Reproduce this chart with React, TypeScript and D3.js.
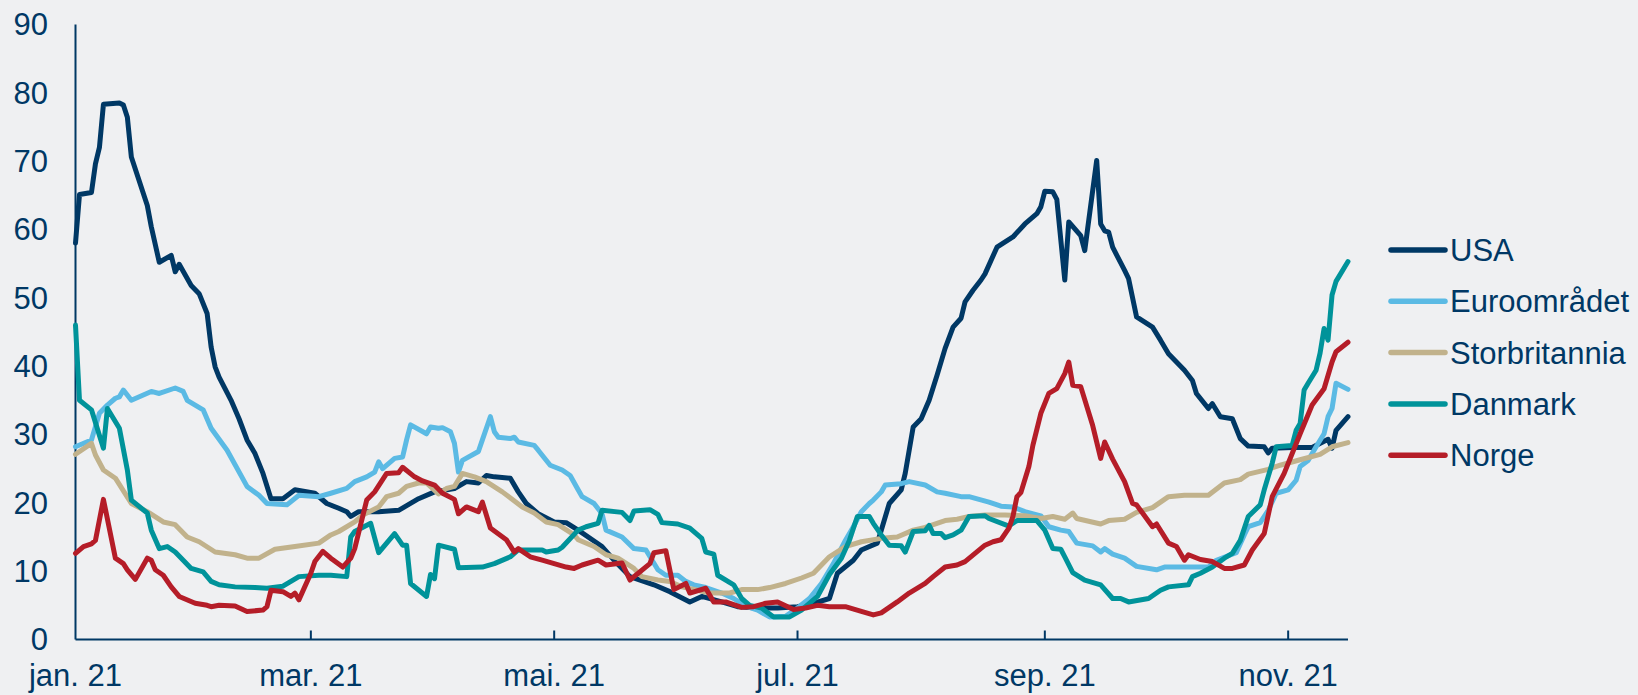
import React from "react";
import * as d3 from "d3";

type P = [number, number]; // [days since 2021-01-01, value]

const usa: P[] = [
[0,58],[1,65.1],[4,65.4],[5,69.6],[6,72.0],[7,78.3],[11,78.5],[12,78.2],[13,76.4],[14,70.6],[18,63.5],[19,60.4],[21,55.2],[24,56.2],[25,53.8],[26,54.9],[29,51.8],[31,50.6],[33,47.7],[34,42.8],[35,39.9],[36,38.4],[39,35.0],[41,32.3],[43,29.2],[45,27.2],[47,24.3],[49,20.6],[52,20.6],[55,21.9],[60,21.4],[63,19.9],[66,19.2],[68,18.7],[69,18.0],[71,18.7],[76,18.7],[81,18.9],[86,20.6],[90,21.6],[95,22.1],[98,23.1],[101,22.9],[103,24.0],[105,23.8],[109,23.6],[111,21.6],[113,19.9],[116,18.4],[120,17.2],[123,17.1],[126,16.0],[132,13.6],[135,11.6],[139,9.2],[145,8.0],[149,7.0],[154,5.5],[157,6.3],[162,5.5],[166,4.8],[171,4.6],[176,4.6],[181,4.8],[185,5.3],[189,6.0],[191,9.7],[195,11.6],[197,13.1],[201,14.1],[202,16.0],[204,19.9],[207,21.9],[208,24.3],[210,31.1],[212,32.3],[214,35.0],[216,38.7],[218,42.6],[220,45.7],[222,47.0],[223,49.4],[225,51.1],[227,52.6],[228,53.5],[231,57.4],[235,58.9],[238,60.8],[241,62.3],[242,63.3],[243,65.6],[245,65.5],[246,64.4],[248,52.6],[249,61.1],[252,59.1],[253,56.9],[256,70.1],[257,60.8],[258,59.8],[259,59.6],[260,57.4],[263,54.0],[264,52.8],[266,47.2],[270,45.7],[272,43.8],[274,41.8],[278,39.4],[280,37.9],[281,36.0],[284,33.8],[285,34.5],[287,32.6],[290,32.3],[292,29.4],[294,28.3],[298,28.2],[299,27.3],[300,28.0],[305,28.1],[310,28.1],[314,29.3],[315,28.0],[316,30.6],[319,32.6]
];

const euro: P[] = [
[0,28.2],[4,29.2],[6,33.1],[8,34.3],[10,35.3],[11,35.5],[12,36.5],[14,35.0],[19,36.3],[21,36.0],[25,36.8],[27,36.3],[28,35.0],[32,33.6],[34,30.9],[38,27.7],[43,22.4],[46,21.1],[48,19.9],[53,19.7],[56,21.1],[61,20.9],[64,21.4],[68,22.1],[70,23.1],[73,23.8],[75,24.5],[76,26.0],[77,25.0],[80,26.5],[82,26.7],[83,29.2],[84,31.4],[88,30.1],[89,31.1],[91,30.9],[92,31.0],[94,30.4],[95,28.7],[96,24.5],[97,26.2],[101,27.5],[102,29.2],[104,32.6],[105,30.4],[106,29.6],[109,29.4],[110,29.6],[111,28.9],[115,28.4],[116,27.7],[119,25.5],[122,24.8],[124,24.0],[126,21.9],[127,20.9],[130,19.9],[132,18.4],[133,16.0],[137,15.0],[140,13.3],[143,13.1],[146,10.2],[148,9.4],[151,9.4],[153,8.5],[155,8.0],[158,7.6],[162,6.8],[165,6.0],[168,4.9],[171,4.3],[174,3.3],[178,3.4],[181,4.6],[184,6.0],[187,8.2],[190,11.1],[193,14.5],[195,16.5],[197,18.7],[199,19.9],[200,20.4],[202,21.6],[203,22.6],[207,22.8],[209,23.1],[213,22.6],[216,21.6],[218,21.4],[222,20.9],[224,20.9],[229,20.1],[232,19.5],[235,19.4],[238,18.7],[242,18.1],[244,16.5],[247,16.0],[249,15.8],[251,14.1],[255,13.7],[257,12.8],[258,13.3],[260,12.5],[263,11.9],[266,10.7],[271,10.2],[273,10.6],[284,10.6],[286,11.6],[291,12.7],[293,15.3],[294,16.5],[297,17.1],[299,18.9],[301,21.4],[304,21.9],[306,23.3],[307,25.3],[309,26.2],[311,28.2],[313,30.1],[314,32.6],[315,33.8],[316,37.5],[319,36.6]
];

const stor: P[] = [
[0,27.1],[4,28.7],[5,27.0],[7,24.8],[10,23.6],[14,19.9],[18,18.7],[22,17.2],[25,16.8],[28,15.0],[31,14.3],[35,12.8],[40,12.4],[43,11.9],[46,11.9],[50,13.2],[55,13.6],[61,14.1],[64,15.3],[66,15.8],[70,17.2],[72,18.2],[76,19.4],[78,20.9],[81,21.4],[83,22.4],[86,22.9],[88,22.9],[91,21.3],[93,22.1],[95,22.4],[97,24.3],[100,23.8],[103,23.1],[107,21.6],[112,19.4],[115,18.5],[118,17.2],[121,16.8],[125,15.3],[126,14.6],[130,13.6],[133,12.4],[136,11.9],[140,10.4],[142,9.2],[146,8.7],[149,8.5],[152,7.7],[156,7.2],[159,6.8],[164,6.8],[167,7.3],[171,7.3],[174,7.6],[178,8.2],[182,9.0],[185,9.7],[187,10.9],[189,12.1],[193,13.6],[197,14.3],[202,14.8],[206,15.0],[210,16.0],[213,16.4],[218,17.4],[221,17.6],[224,18.0],[228,18.2],[233,18.2],[238,18.1],[242,17.7],[245,18.0],[248,17.6],[250,18.5],[251,17.7],[257,16.9],[259,17.4],[263,17.6],[266,18.6],[270,19.3],[274,20.9],[278,21.1],[284,21.1],[288,22.9],[292,23.4],[294,24.2],[299,24.9],[302,25.5],[307,26.3],[312,27.1],[315,28.2],[319,28.8]
];

const danmark: P[] = [
[0,46],[1,35.0],[4,33.6],[7,28.0],[8,33.8],[11,30.9],[13,24.8],[14,20.4],[18,18.5],[19,16.0],[21,13.3],[23,13.6],[25,12.8],[27,11.6],[29,10.4],[32,9.9],[34,8.5],[36,8.0],[40,7.7],[45,7.6],[48,7.5],[52,7.8],[56,9.2],[61,9.4],[64,9.4],[68,9.2],[69,15.0],[70,15.8],[74,17.0],[76,12.7],[80,15.5],[82,13.8],[83,13.8],[84,8.2],[88,6.3],[89,9.5],[90,8.9],[91,13.8],[95,13.2],[96,10.5],[102,10.6],[105,11.1],[109,12.1],[111,13.1],[117,13.1],[118,12.8],[121,13.1],[122,13.5],[126,16.0],[128,16.5],[131,17.0],[132,18.9],[137,18.6],[139,17.4],[140,18.8],[144,19.0],[146,18.3],[147,17.1],[151,16.9],[154,16.3],[157,14.8],[158,12.8],[160,12.5],[161,9.4],[165,8.0],[167,6.0],[169,5.0],[172,4.6],[175,3.3],[179,3.3],[182,4.3],[186,6.3],[189,9.5],[192,11.9],[194,14.5],[196,18.0],[199,18.0],[200,17.0],[202,15.3],[204,13.8],[207,13.7],[208,12.8],[209,14.3],[210,15.8],[213,15.9],[214,16.7],[215,15.5],[217,15.5],[218,14.9],[220,15.3],[222,16.0],[224,18.0],[228,18.1],[229,17.7],[234,16.6],[236,17.4],[241,17.4],[243,16.0],[245,13.3],[247,13.2],[248,12.1],[250,9.8],[253,8.7],[257,8.0],[260,6.0],[262,6.0],[264,5.5],[269,6.0],[272,7.2],[274,7.7],[279,8.0],[280,9.2],[282,9.7],[285,10.6],[288,11.9],[290,12.6],[292,14.5],[294,18.0],[297,19.7],[298,21.9],[300,25.8],[301,28.2],[305,28.4],[306,30.6],[307,31.6],[308,36.5],[309,37.5],[311,39.4],[312,41.9],[313,45.5],[314,43.8],[315,50.4],[316,52.4],[319,55.3]
];

const norge: P[] = [
[0,12.6],[2,13.6],[4,14.0],[5,14.5],[7,20.5],[10,11.9],[12,11.1],[13,10.2],[15,8.8],[18,11.9],[19,11.6],[20,10.2],[22,9.4],[24,7.7],[26,6.3],[30,5.3],[33,5.0],[34,4.8],[36,5.0],[40,4.9],[43,4.1],[47,4.3],[48,4.8],[49,7.2],[52,7.0],[54,6.3],[55,6.8],[56,5.8],[59,9.7],[60,11.4],[62,12.9],[64,11.9],[67,10.6],[69,11.9],[70,13.3],[73,20.4],[75,21.6],[78,24.3],[81,24.4],[82,25.2],[85,23.8],[87,23.2],[90,22.6],[92,21.4],[95,20.5],[96,18.4],[98,19.4],[101,18.7],[102,20.1],[104,16.3],[108,14.6],[110,12.8],[111,13.3],[114,12.1],[117,11.6],[120,11.1],[123,10.6],[125,10.4],[127,10.9],[131,11.6],[133,10.9],[137,11.2],[139,8.7],[144,11.1],[145,12.7],[148,13.0],[150,7.3],[153,8.2],[154,6.8],[158,7.5],[160,5.5],[163,5.5],[167,4.7],[170,4.8],[173,5.3],[176,5.5],[180,4.4],[183,4.6],[186,5.0],[189,4.8],[193,4.8],[197,4.1],[200,3.6],[202,3.9],[206,5.5],[209,6.8],[213,8.2],[215,9.2],[218,10.6],[221,10.9],[223,11.4],[228,13.8],[230,14.3],[232,14.6],[234,16.3],[235,18.0],[236,20.9],[237,21.5],[239,25.3],[240,28.4],[242,33.1],[244,36.0],[246,36.7],[248,38.9],[249,40.6],[250,37.2],[252,37.0],[255,31.3],[257,26.5],[258,28.9],[260,26.4],[263,23.1],[265,19.9],[266,19.7],[270,16.5],[271,16.9],[274,14.1],[276,13.6],[278,11.6],[279,12.4],[282,11.7],[285,11.4],[288,10.4],[290,10.4],[293,10.9],[295,13.1],[298,15.5],[300,20.9],[303,24.3],[307,30.1],[310,34.3],[313,36.7],[315,40.6],[316,42.1],[319,43.5]
];

const seriesNames = ["USA", "Euroområdet", "Storbritannia", "Danmark", "Norge"];
const seriesData = [usa, euro, stor, danmark, norge];
const seriesColors = ["#003865", "#5bbae4", "#c1b28c", "#00939a", "#b51d28"];

const yTicks = [0, 10, 20, 30, 40, 50, 60, 70, 80, 90];
const xTickMonths = [0, 2, 4, 6, 8, 10];
const xTickLabels = ["jan. 21", "mar. 21", "mai. 21", "jul. 21", "sep. 21", "nov. 21"];

const START = new Date(2021, 0, 1);
const LAST_DAY = 319;

export default function App() {
  const W = 1638;
  const H = 695;
  const ink = "#003865";
  const font = "'Liberation Sans', Arial, Helvetica, sans-serif";
  const toDate = (d: number) => d3.timeDay.offset(START, d);

  const x = d3.scaleTime().domain([START, toDate(LAST_DAY)]).range([75.5, 1348]);
  const y = d3.scaleLinear().domain([0, 90]).range([639.5, 24.4]);

  const line = d3
    .line<P>()
    .x((d) => x(toDate(d[0])))
    .y((d) => y(d[1]));

  const legendX0 = 1391;
  const legendX1 = 1445;
  const legendY0 = 250;
  const legendStep = 51.3;

  return (
    <svg
      width={W}
      height={H}
      style={{ position: "absolute", left: 0, top: 0, display: "block" }}
      fontFamily={font}
    >
      <rect x={0} y={0} width={W} height={H} fill="#eff0f2" />

      {/* y axis */}
      <line x1={x(START)} x2={x(START)} y1={y(90)} y2={y(0)} stroke={ink} strokeWidth={2} />
      {yTicks.map((t) => (
        <text key={t} x={48} y={y(t)} dy="0.35em" textAnchor="end" fontSize={31} fill={ink}>
          {t}
        </text>
      ))}

      {/* x axis */}
      <line x1={x(START)} x2={x(toDate(LAST_DAY))} y1={y(0)} y2={y(0)} stroke={ink} strokeWidth={2} />
      {xTickMonths.map((m, i) => {
        const xv = x(new Date(2021, m, 1));
        return (
          <g key={m}>
            {m > 0 && <line x1={xv} x2={xv} y1={y(0)} y2={y(0) - 9} stroke={ink} strokeWidth={2} />}
            <text x={xv} y={686} textAnchor="middle" fontSize={31} fill={ink}>
              {xTickLabels[i]}
            </text>
          </g>
        );
      })}

      {/* series */}
      {seriesData.map((s, i) => (
        <path
          key={seriesNames[i]}
          d={line(s) || ""}
          fill="none"
          stroke={seriesColors[i]}
          strokeWidth={5}
          strokeLinejoin="round"
          strokeLinecap="round"
        />
      ))}

      {/* legend */}
      {seriesNames.map((n, i) => {
        const ly = legendY0 + i * legendStep;
        return (
          <g key={n}>
            <line
              x1={legendX0}
              x2={legendX1}
              y1={ly}
              y2={ly}
              stroke={seriesColors[i]}
              strokeWidth={5.5}
              strokeLinecap="round"
            />
            <text x={legendX1 + 5} y={ly} dy="0.36em" fontSize={31} fill={ink}>
              {n}
            </text>
          </g>
        );
      })}
    </svg>
  );
}
